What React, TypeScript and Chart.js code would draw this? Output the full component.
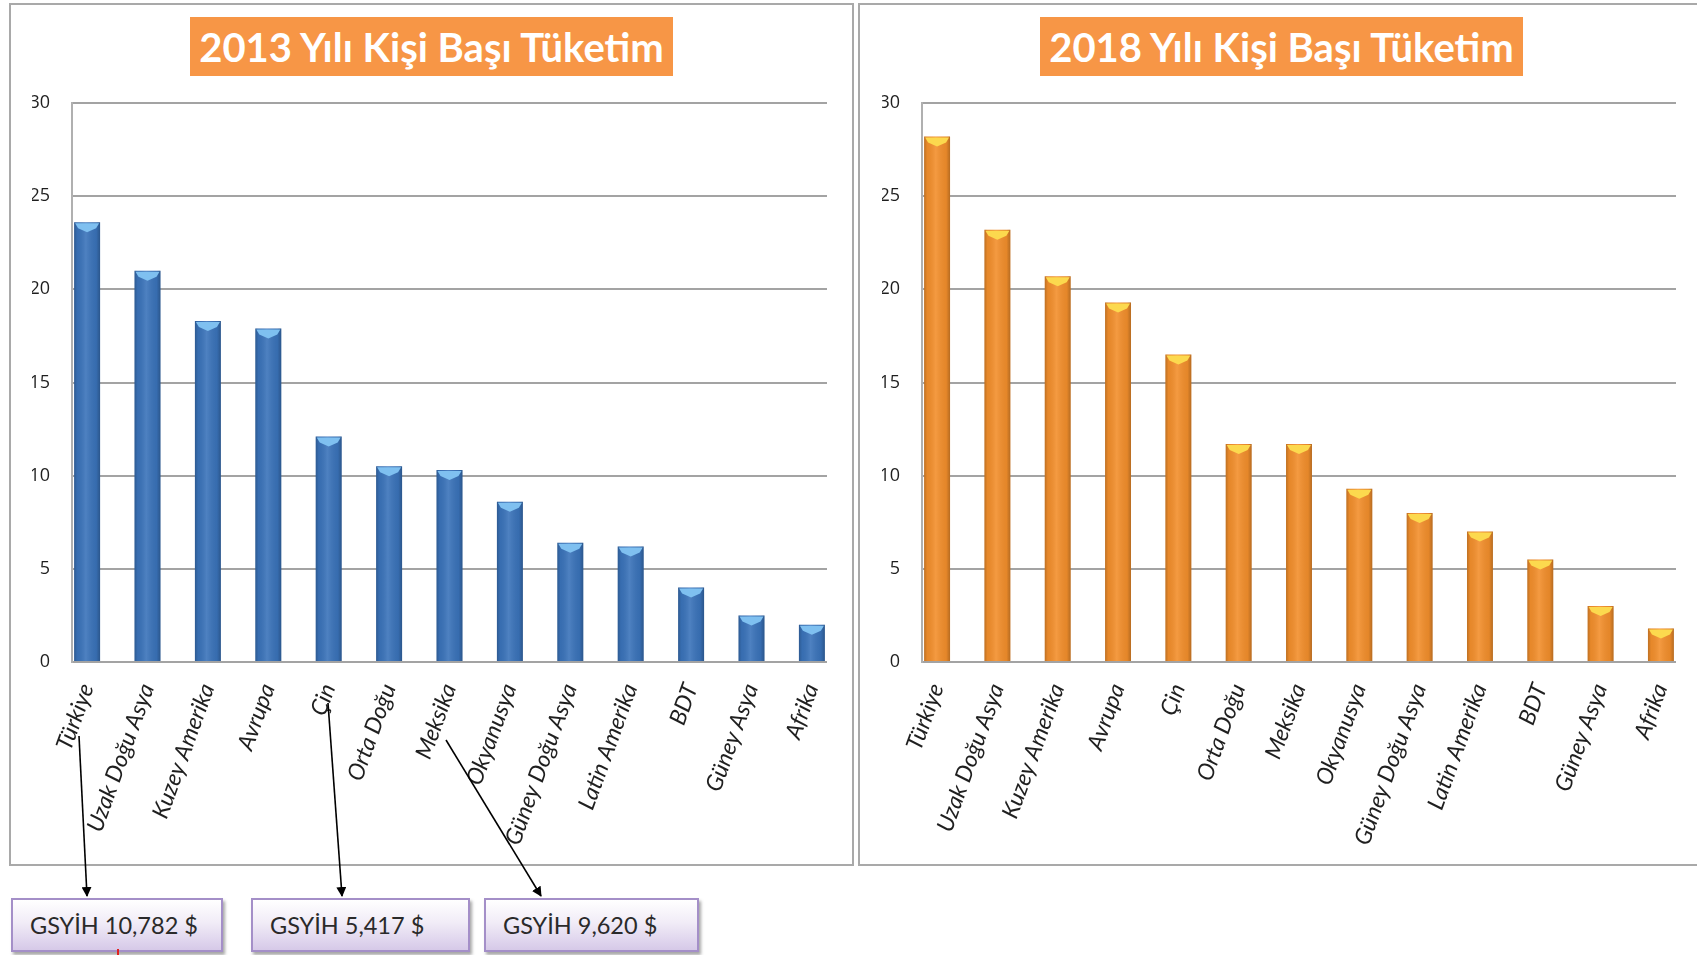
import React, { useEffect, useRef } from "react";
import { Chart, registerables } from "chart.js";

Chart.register(...registerables);

const categories = [
  "Türkiye",
  "Uzak Doğu Asya",
  "Kuzey Amerika",
  "Avrupa",
  "Çin",
  "Orta Doğu",
  "Meksika",
  "Okyanusya",
  "Güney Doğu Asya",
  "Latin Amerika",
  "BDT",
  "Güney Asya",
  "Afrika",
];

const values2013 = [23.6, 21.0, 18.3, 17.9, 12.1, 10.5, 10.3, 8.6, 6.4, 6.2, 4.0, 2.5, 2.0];
const values2018 = [28.2, 23.2, 20.7, 19.3, 16.5, 11.7, 11.7, 9.3, 8.0, 7.0, 5.5, 3.0, 1.8];

const title2013 = "2013 Yılı Kişi Başı Tüketim";
const title2018 = "2018 Yılı Kişi Başı Tüketim";

const gdpLabels = ["GSYİH 10,782 $", "GSYİH 5,417 $", "GSYİH 9,620 $"];

const yTicksMin = 0;
const yTicksMax = 30;
const yTicksStep = 5;

function makeBarShadePlugin(capColor: string) {
  return {
    id: "barShade",
    afterDatasetsDraw(chart: any) {
      const ctx = chart.ctx;
      const meta = chart.getDatasetMeta(0);
      ctx.save();
      meta.data.forEach((bar: any) => {
        const { x, y, base, width } = bar.getProps(["x", "y", "base", "width"], true);
        const l = x - width / 2;
        const r = x + width / 2;
        const g = ctx.createLinearGradient(l, 0, r, 0);
        g.addColorStop(0, "rgba(0,0,0,0.22)");
        g.addColorStop(0.12, "rgba(0,0,0,0.05)");
        g.addColorStop(0.45, "rgba(255,255,255,0.10)");
        g.addColorStop(0.85, "rgba(0,0,0,0.06)");
        g.addColorStop(1, "rgba(0,0,0,0.25)");
        ctx.fillStyle = g;
        ctx.fillRect(l, y, width, base - y);
        ctx.beginPath();
        ctx.moveTo(l + 1, y + 1);
        ctx.lineTo(r - 1, y + 1);
        ctx.lineTo(r - 4, y + 6);
        ctx.lineTo(x, y + 10);
        ctx.lineTo(l + 4, y + 6);
        ctx.closePath();
        ctx.fillStyle = capColor;
        ctx.fill();
      });
      ctx.restore();
    },
  };
}

function BarChart(props: {
  values: number[];
  color: string;
  cap: string;
  width: number;
  height: number;
  padLeft: number;
  padRight: number;
}) {
  const ref = useRef<HTMLCanvasElement | null>(null);
  useEffect(() => {
    if (!ref.current) return;
    const points = props.values.map((v, i) => ({ x: i, y: v }));
    const chart = new Chart(ref.current, {
      type: "bar",
      data: {
        datasets: [
          {
            data: points,
            backgroundColor: props.color,
            borderWidth: 0,
            barPercentage: 0.43,
            categoryPercentage: 1,
          },
        ],
      },
      options: {
        animation: false,
        responsive: false,
        devicePixelRatio: 1,
        layout: {
          padding: { left: props.padLeft, right: props.padRight, top: 98, bottom: 12 },
        },
        plugins: {
          legend: { display: false },
          tooltip: { enabled: false },
        },
        scales: {
          x: {
            type: "linear",
            offset: false,
            min: -0.25,
            max: categories.length - 0.75,
            grid: { display: false, drawTicks: false, offset: false },
            border: { display: false },
            afterBuildTicks: (s: any) => {
              s.ticks = categories.map((_, i) => ({ value: i }));
            },
            ticks: {
              autoSkip: false,
              maxRotation: 70,
              minRotation: 70,
              padding: 18,
              color: "#1f1f1f",
              font: { family: "Lato", size: 23, style: "italic" },
              callback: (v: any) => categories[v] ?? "",
            },
            afterFit: (s: any) => {
              s.height = 190;
              s.paddingLeft = 0;
              s.paddingRight = 0;
            },
          },
          y: {
            min: yTicksMin,
            max: yTicksMax,
            ticks: {
              stepSize: yTicksStep,
              padding: 22,
              color: "#1f1f1f",
              font: { family: "Open Sans", size: 18 },
            },
            grid: { color: "#a3a3a3", lineWidth: 2, drawTicks: false },
            border: { display: true, color: "#b0b0b0", width: 2 },
            afterFit: (s: any) => {
              s.width = 40;
              s.paddingTop = 0;
              s.paddingBottom = 0;
            },
          },
        },
      },
      plugins: [makeBarShadePlugin(props.cap)],
    });
    return () => chart.destroy();
  }, []);
  return <canvas ref={ref} width={props.width} height={props.height} style={{ display: "block" }} />;
}

const titleStyle: React.CSSProperties = {
  position: "absolute",
  top: 17,
  width: 483,
  height: 59,
  background: "#f79646",
  color: "#ffffff",
  fontFamily: "Lato, sans-serif",
  fontWeight: 700,
  fontSize: 40,
  display: "flex",
  alignItems: "center",
  justifyContent: "center",
  whiteSpace: "nowrap",
};

const boxStyle: React.CSSProperties = {
  position: "absolute",
  top: 898,
  height: 54,
  boxSizing: "border-box",
  border: "2px solid #a48fc8",
  background: "linear-gradient(#ffffff 0%, #f1ecf7 45%, #d6c9e8 100%)",
  boxShadow: "2px 3px 3px rgba(0,0,0,0.35)",
  fontFamily: "Lato, sans-serif",
  fontSize: 23.5,
  color: "#2a2a2a",
  display: "flex",
  alignItems: "center",
  paddingLeft: 17,
  whiteSpace: "nowrap",
};

const arrows = [
  { x1: 79, y1: 736, x2: 87, y2: 896 },
  { x1: 328, y1: 703, x2: 342, y2: 896 },
  { x1: 446, y1: 740, x2: 541, y2: 896 },
];

export default function App() {
  return (
    <div
      style={{
        position: "fixed",
        left: 0,
        top: 0,
        width: 1697,
        height: 955,
        background: "#ffffff",
        overflow: "hidden",
      }}
    >
      <div
        style={{
          position: "absolute",
          left: 9,
          top: 3,
          width: 845,
          height: 863,
          boxSizing: "border-box",
          border: "2px solid #a9a9a9",
        }}
      >
        <BarChart values={values2013} color="#3a73ba" cap="#7fc0f0" width={841} height={859} padLeft={21} padRight={25} />
      </div>
      <div
        style={{
          position: "absolute",
          left: 858,
          top: 3,
          width: 845,
          height: 863,
          boxSizing: "border-box",
          border: "2px solid #a9a9a9",
        }}
      >
        <BarChart values={values2018} color="#f38f2c" cap="#fcd94e" width={841} height={859} padLeft={22} padRight={25} />
      </div>
      <div style={{ ...titleStyle, left: 190 }}>{title2013}</div>
      <div style={{ ...titleStyle, left: 1040 }}>{title2018}</div>

      <div style={{ ...boxStyle, left: 11, width: 212 }}>{gdpLabels[0]}</div>
      <div style={{ ...boxStyle, left: 251, width: 219 }}>{gdpLabels[1]}</div>
      <div style={{ ...boxStyle, left: 484, width: 215 }}>{gdpLabels[2]}</div>
      <div style={{ position: "absolute", left: 117, top: 949, width: 2, height: 6, background: "#e02020" }} />

      <svg
        width={1697}
        height={955}
        style={{ position: "absolute", left: 0, top: 0, pointerEvents: "none" }}
      >
        <defs>
          <marker id="ah" markerWidth="10" markerHeight="10" refX="9" refY="5" orient="auto" markerUnits="userSpaceOnUse">
            <path d="M0,0 L10,5 L0,10 z" fill="#000" />
          </marker>
        </defs>
        {arrows.map((a, i) => (
          <line key={i} x1={a.x1} y1={a.y1} x2={a.x2} y2={a.y2} stroke="#000" strokeWidth={1.6} markerEnd="url(#ah)" />
        ))}
      </svg>
    </div>
  );
}
